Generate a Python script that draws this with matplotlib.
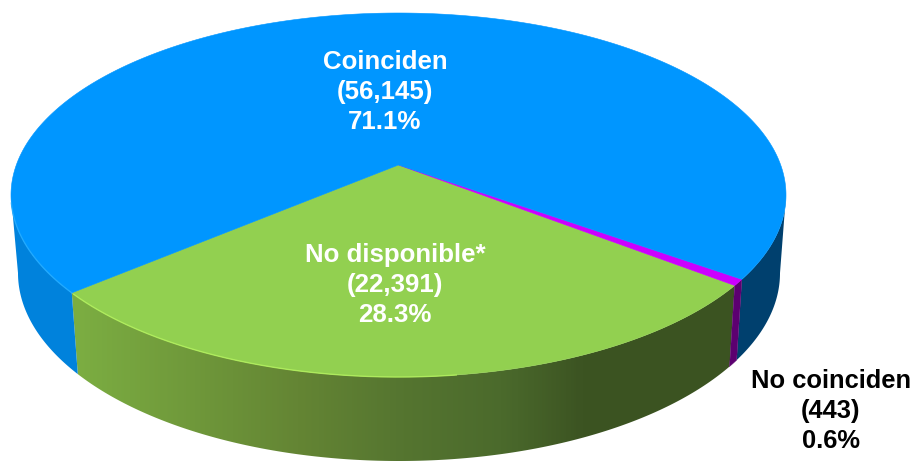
import numpy as np
import matplotlib
matplotlib.use("Agg")
import matplotlib.pyplot as plt
from matplotlib.colors import LinearSegmentedColormap
from matplotlib.patches import Polygon

# ---- data ----
categories = ["No disponible*", "No coinciden", "Coinciden"]
counts = [22391, 443, 56145]
count_labels = ["22,391", "443", "56,145"]
percent_labels = ["28.3%", "0.6%", "71.1%"]

# ---- styles ----
top_colors = ["#92D050", "#CC00FF", "#0096FF"]
W, H = 916, 462
START = 220.2
D = 0.165
TOP = dict(cx=398.5, cy=195.0, a=387.5, b=182.0)
BOT = dict(cx=399.0, cy=273.0, a=381.0, b=188.0)
SIDE = np.degrees(np.arcsin(D))  # angle of the silhouette points

plt.rcParams["font.family"] = ["Liberation Sans", "DejaVu Sans"]
fig = plt.figure(figsize=(W / 100, H / 100), dpi=100)
ax = fig.add_axes([0, 0, 1, 1])


def project(theta_deg, e):
    t = np.radians(np.asarray(theta_deg, dtype=float))
    u, v = np.cos(t), np.sin(t)
    den = 1 + D * v
    s = (v + D) / den
    x = u * np.sqrt(1 - D ** 2) / den
    return e["cx"] + e["a"] * x, e["cy"] - e["b"] * s


def rim_polygon(t0, t1):
    th = np.linspace(t0, t1, 300)
    xt, yt = project(th, TOP)
    xb, yb = project(th, BOT)
    return np.column_stack([np.r_[xt, xb[::-1]], np.r_[yt, yb[::-1]]])


def wedge_polygon(t0, t1):
    th = np.linspace(t0, t1, 500)
    xt, yt = project(th, TOP)
    return np.column_stack([np.r_[TOP["cx"], xt], np.r_[TOP["cy"] - TOP["b"] * D, yt]])


total = sum(counts)
spans = [c / total * 360 for c in counts]
edges = START + np.r_[0, np.cumsum(spans)]

# rims
green_cmap = LinearSegmentedColormap.from_list(
    "g",
    [(0.0, "#7CAE42"), (0.34, "#648534"), (0.5, "#557530"), (0.65, "#4B6A2C"), (0.77, "#3C5422"), (1.0, "#3B5321")],
)
grad = np.linspace(0, 1, 400).reshape(1, -1)
im = ax.imshow(grad, cmap=green_cmap, extent=[72, 735, 470, 280], aspect="auto", zorder=1)
green_rim = Polygon(rim_polygon(edges[0], edges[1]), closed=True, fc="none", ec="none")
ax.add_patch(green_rim)
im.set_clip_path(green_rim)

ax.add_patch(Polygon(rim_polygon(edges[1], edges[2]), closed=True, fc="#5C0070", ec="#5C0070", lw=0.3, zorder=2))
ax.add_patch(Polygon(rim_polygon(edges[2], 360 - SIDE), closed=True, fc="#00406E", ec="none", zorder=1))
ax.add_patch(Polygon(rim_polygon(180 + SIDE, edges[0]), closed=True, fc="#0082DC", ec="none", zorder=1))

# top faces
for t0, t1, col in zip(edges[:-1], edges[1:], top_colors):
    ax.add_patch(Polygon(wedge_polygon(t0, t1), closed=True, fc=col, ec=col, lw=0.4, zorder=3))

# rim highlights
xh, yh = project(np.linspace(edges[0] + 0.5, edges[1] - 45, 200), TOP)
ax.plot(xh, yh, color="#B4F25E", lw=1.0, alpha=0.8, zorder=4)
xh, yh = project(np.linspace(192, edges[0], 100), TOP)
ax.plot(xh, yh, color="#25ADFF", lw=1.0, alpha=0.8, zorder=4)

# labels
ax.text(385, 92, f"{categories[2]}\n({count_labels[2]})\n{percent_labels[2]}",
        color="white", fontsize=18.6, fontweight="bold", ha="center", va="center",
        linespacing=1.31, zorder=5)
ax.text(395, 285, f"{categories[0]}\n({count_labels[0]})\n{percent_labels[0]}",
        color="white", fontsize=18.6, fontweight="bold", ha="center", va="center",
        linespacing=1.31, zorder=5)
ax.text(831, 411, f"{categories[1]}\n({count_labels[1]})\n{percent_labels[1]}",
        color="black", fontsize=18.4, fontweight="bold", ha="center", va="center",
        linespacing=1.31, zorder=5)

ax.set_xlim(0, W)
ax.set_ylim(H, 0)
ax.axis("off")
fig.savefig("out.png", dpi=100, facecolor="white")
